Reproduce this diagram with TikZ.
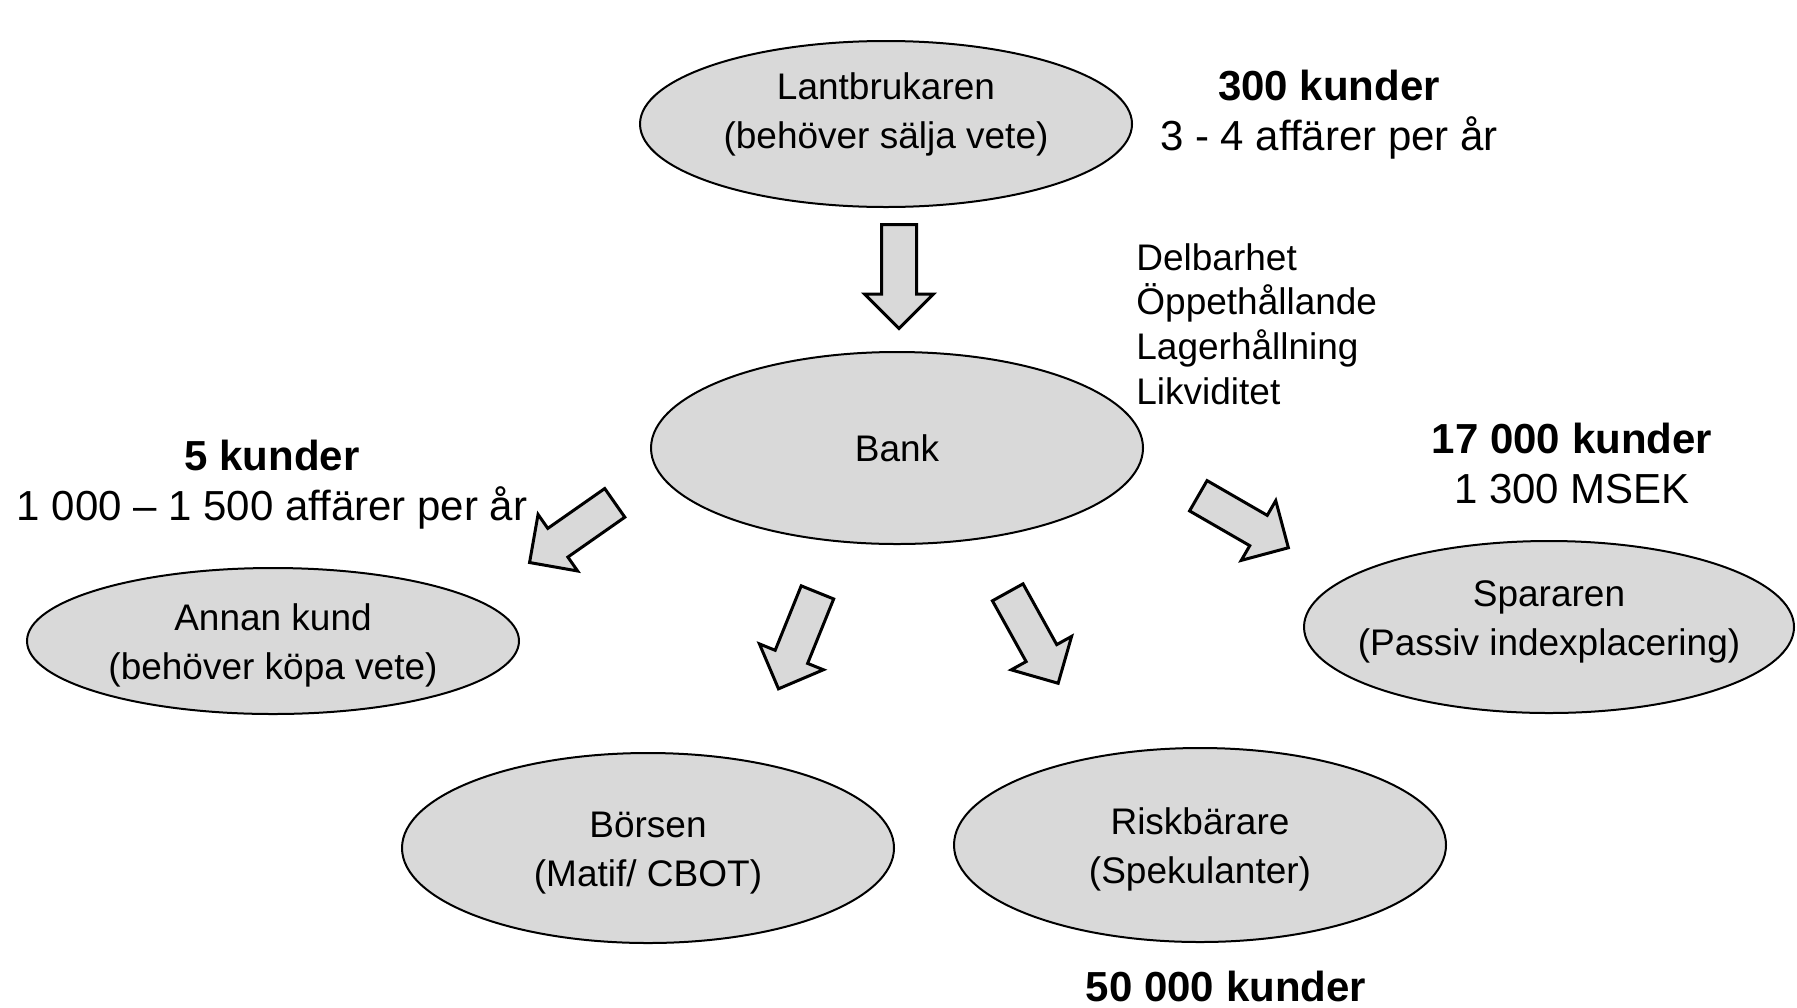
\documentclass[tikz,border=0pt]{standalone}
\usepackage{fontspec}
\setmainfont{Liberation Sans}
\usetikzlibrary{shapes.geometric,shapes.arrows}

\tikzset{
  aktor/.style={ellipse, draw, fill=black!15, line width=1pt, inner sep=0pt},
  aktortext/.style={align=center, inner sep=0pt, font=\fontsize{18.5}{24.5}\selectfont},
  blockpil/.style={single arrow, draw, fill=black!15, line width=1.5pt,
    minimum height=52pt, inner sep=8pt, single arrow head extend=8.5pt,
    single arrow tip angle=90, anchor=tail},
  antal/.style={align=center, font=\fontsize{21}{25}\selectfont}
}

\begin{document}
\begin{tikzpicture}[x=0.5pt, y=-0.5pt]
        \useasboundingbox (0,0) rectangle (1797,1007);

        % ~~~~ Aktorer ~~~~ %
        \node[aktor, minimum width=246pt, minimum height=83pt,
            label={[aktortext, yshift=5pt]center:{Lantbrukaren\\(behöver sälja vete)}}]
            (lantbrukare) at (886,124) {};
        \node[aktor, minimum width=246pt, minimum height=96pt,
            label={[aktortext]center:Bank}] (bank) at (897,448) {};
        \node[aktor, minimum width=246pt, minimum height=73pt,
            label={[aktortext, yshift=-2.3pt]center:{Annan kund\\(behöver köpa vete)}}]
            (annan) at (273,641) {};
        \node[aktor, minimum width=245pt, minimum height=86pt,
            label={[aktortext, yshift=2.3pt]center:{Spararen\\(Passiv indexplacering)}}]
            (spararen) at (1549,627) {};
        \node[aktor, minimum width=246pt, minimum height=95pt,
            label={[aktortext, yshift=-2.3pt]center:{Börsen\\(Matif/ CBOT)}}]
            (borsen) at (648,848) {};
        \node[aktor, minimum width=246pt, minimum height=97pt,
            label={[aktortext, yshift=-2.3pt]center:{Riskbärare\\(Spekulanter)}}]
            (riskbarare) at (1200,845) {};

        % ~~~~ Pilar ~~~~ %
        \node[blockpil, rotate=-90] (pil1) at (899,223) {};
        \node[blockpil, rotate=-145] (pil2) at (616,502) {};
        \node[blockpil, rotate=-112] (pil3) at (818,591) {};
        \node[blockpil, rotate=-61] (pil4) at (1007,591) {};
        \node[blockpil, rotate=-30] (pil5) at (1197,495) {};

        % ~~~~ Antal kunder ~~~~ %
        \node[antal] (kunder300) at (1329,115)
            {\textbf{300 kunder}\\3 - 4 affärer per år};
        \node[antal] (kunder5) at (272,485)
            {\textbf{5 kunder}\\1 000 – 1 500 affärer per år};
        \node[antal] (kunder17000) at (1572,463)
            {\textbf{17 000 kunder}\\1 300 MSEK};
        \node[antal, inner sep=0pt] (kunder50000) at (1226,986) {\textbf{50 000 kunder}};

        % ~~~~ Bankens roll ~~~~ %
        \node[anchor=west, align=left, inner sep=0pt,
            font=\fontsize{18.5}{22.4}\selectfont] (roll) at (1136,324)
            {Delbarhet\\Öppethållande\\Lagerhållning\\Likviditet};
    \end{tikzpicture}
\end{document}
